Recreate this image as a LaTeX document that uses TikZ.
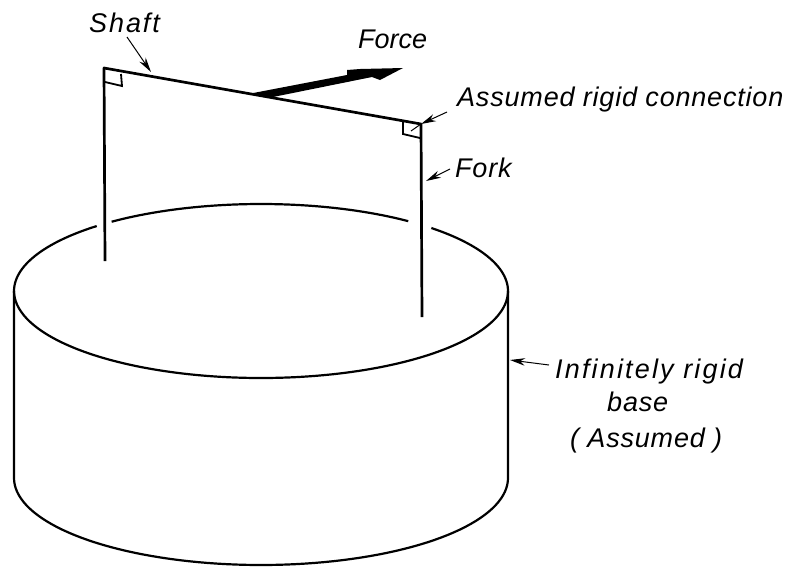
\documentclass[tikz,border=0pt]{standalone}
\usepackage{fontspec}
\setmainfont{Liberation Sans}
\usetikzlibrary{arrows.meta}
\newcommand{\lsp}[1]{\addfontfeature{LetterSpace=#1}}
\tikzset{
  lbl/.style={inner sep=0pt,anchor=base west,font=\fontsize{27}{30}\selectfont\itshape},
  thick line/.style={line width=2.7pt,line join=round},
  body/.style={line width=2.2pt,line join=round},
  lead/.style={line width=1pt,-{Stealth[length=15pt,width=7.5pt]}}
}
\begin{document}
\begin{tikzpicture}[x=1pt,y=-1pt]
\useasboundingbox (0,0) rectangle (798,566);
% fork and shaft
\coordinate (tl) at (104,68);
\coordinate (tr) at (421,124);
\coordinate (fl) at (105,261);
\coordinate (fr) at (422,317);
\draw[thick line] (fl) -- (tl) -- (tr) -- (fr);
\draw[line width=1.8pt] (105,82) -- (122,86) -- (121,74);
\draw[line width=1.8pt] (403,122) -- (403,134) -- (420,138);
% force
\coordinate (fa) at (248,94);
\coordinate (fb) at (403,68);
\fill (fa) -- (347,75) -- (347,70) -- (360,69) -- (fb) -- (380,80) -- (372,77) -- (273,97) -- cycle;
% base
\draw[body,smooth] plot[domain=180:131.7,samples=30] ({261+247*cos(\x)},{291-87*sin(\x)});
\draw[body,smooth] plot[domain=127.2:53.4,samples=40] ({261+247*cos(\x)},{291-87*sin(\x)});
\draw[body,smooth] plot[domain=46.4:0,samples=30] ({261+247*cos(\x)},{291-87*sin(\x)});
\draw[body,smooth] plot[domain=180:360,samples=80] ({261+247*cos(\x)},{291+87*sin(-\x)});
\draw[body] (14,291) -- (14,478) -- plot[domain=180:360,samples=80] ({261+247*cos(\x)},{478+87*sin(-\x)}) -- (508,291);
% labels
\node[lbl] (shaft) at (89,32) {\lsp{7}Shaft};
\node[lbl] (force) at (358,48) {Force};
\node[lbl] (conn) at (457,106) {\lsp{3}Assumed rigid connection};
\node[lbl] (fork) at (455,177) {\lsp{3}Fork};
\node[lbl] (inf) at (555,378) {\lsp{8}Infinitely rigid};
\node[lbl] (bas) at (607,411) {\lsp{3}base};
\node[lbl] (ass) at (570,447) {\lsp{3}( Assumed )};
% leaders
\coordinate (s1) at (127,37); \coordinate (s2) at (151,72);
\coordinate (c1) at (447,112); \coordinate (c2) at (421,124);
\coordinate (c3) at (411,131);
\coordinate (k1) at (450,169); \coordinate (k2) at (426,181);
\coordinate (b1) at (549,365); \coordinate (b2) at (510,360);
\draw[lead] (s1) -- (s2);
\draw[lead] (c1) -- (c2);
\draw[line width=1pt] (c2) -- (c3);
\draw[lead] (k1) -- (k2);
\draw[lead] (b1) -- (b2);
\end{tikzpicture}
\end{document}
